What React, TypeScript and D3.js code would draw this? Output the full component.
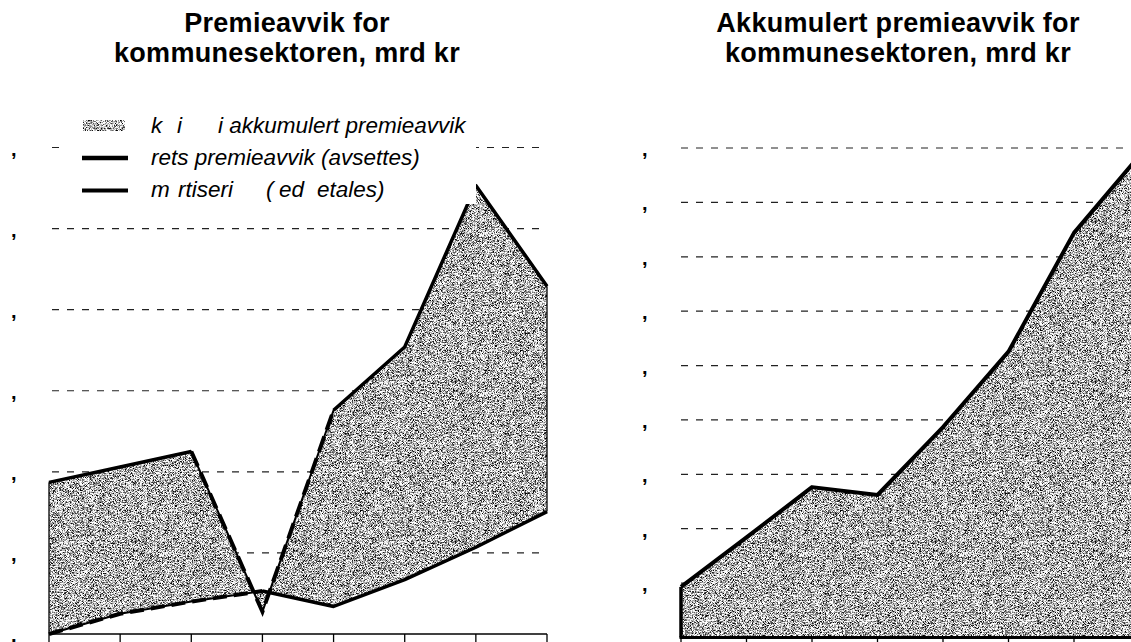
import React from "react";
import * as d3 from "d3";

// ---------- data ----------
const categories = ["2002", "2003", "2004", "2005", "2006", "2007", "2008", "2009"];
const avsettes = [1.87, 2.06, 2.25, 0.275, 2.76, 3.54, 5.53, 4.29];
const amortiseres = [0.0, 0.25, 0.4, 0.53, 0.34, 0.67, 1.07, 1.51];
const akkumulert = [1.86, 3.68, 5.53, 5.24, 7.74, 10.51, 14.88, 17.72];

const leftTicks = [0, 1, 2, 3, 4, 5, 6];
const leftTickLabels = [",", ",", ",", ",", ",", ",", ","];
const rightTicks = [0, 2, 4, 6, 8, 10, 12, 14, 16, 18];
// the label of 0 lies below the visible page in the reference
const rightTickLabels = ["", ",", ",", ",", ",", ",", ",", ",", ",", ","];

const leftTitle = ["Premieavvik for", "kommunesektoren, mrd kr"];
const rightTitle = ["Akkumulert premieavvik for", "kommunesektoren, mrd kr"];

// legend texts (scan leaves only fragments visible)
const legendRow1 = ["k", "i", "i akkumulert premieavvik"];
const legendRow2 = ["rets premieavvik (avsettes)"];
const legendRow3 = ["m", "rtiseri", "(", "ed", "etales)"];

const W = 1131;
const H = 642;
const FONT = "'Liberation Sans', Arial, Helvetica, sans-serif";

export default function App() {
  // scales
  const xL = d3.scalePoint<string>().domain(categories).range([49, 547]);
  const yL = d3.scaleLinear().domain([0, 6]).range([634, 147.5]);
  const xR = d3.scalePoint<string>().domain(categories).range([681, 1139.5]);
  const yR = d3.scaleLinear().domain([0, 18]).range([637.5, 148]);

  const upperPts: [number, number][] = categories.map((c, i) => [xL(c)!, yL(avsettes[i])]);
  const lowerPts: [number, number][] = categories.map((c, i) => [xL(c)!, yL(amortiseres[i])]);
  const line = d3.line<[number, number]>();

  const diffPoly = line([...upperPts, ...lowerPts.slice().reverse()]) + "Z";

  const rightPts: [number, number][] = categories.map((c, i) => [xR(c)!, yR(akkumulert[i])]);
  const rightArea = d3
    .area<[number, number]>()
    .x((d) => d[0])
    .y0(yR(0))
    .y1((d) => d[1])(rightPts)!;

  const gridDash = "7 8";

  return (
    <svg
      width={W}
      height={H}
      style={{ position: "fixed", left: 0, top: 0, background: "#fff" }}
    >
      <defs>
        <filter
          id="grain"
          x="0"
          y="0"
          width="1"
          height="1"
          colorInterpolationFilters="sRGB"
        >
          <feTurbulence type="fractalNoise" baseFrequency="1.6" numOctaves="1" seed="7" result="noise" />
          <feColorMatrix
            in="noise"
            type="matrix"
            values="3.4 0 0 0 -1.0  3.4 0 0 0 -1.0  3.4 0 0 0 -1.0  0 0 0 0 1"
            result="gray"
          />
          <feComposite in="gray" in2="SourceAlpha" operator="in" />
        </filter>
      </defs>
      <rect x={0} y={0} width={W} height={H} fill="#fff" />

      {/* ---------- titles ---------- */}
      <g fontFamily={FONT} fontWeight="bold" fontSize={27} fill="#000" textAnchor="middle" letterSpacing={0.3}>
        {leftTitle.map((t, i) => (
          <text key={"lt" + i} x={287} y={32 + i * 30}>
            {t}
          </text>
        ))}
        {rightTitle.map((t, i) => (
          <text key={"rt" + i} x={898} y={32 + i * 30}>
            {t}
          </text>
        ))}
      </g>

      {/* ---------- LEFT CHART ---------- */}
      <g>
        {leftTicks.slice(1).map((v) => (
          <line
            key={"lg" + v}
            x1={xL.range()[0]}
            x2={xL.range()[1]}
            y1={yL(v)}
            y2={yL(v)}
            stroke="#222"
            strokeWidth={1.2}
            strokeDasharray={gridDash}
            strokeDashoffset={-3}
          />
        ))}
        {leftTicks.map((v, i) => (
          <text key={"ll" + v} x={11} y={yL(v) + 8} fontFamily={FONT} fontWeight="bold" fontSize={20}>
            {leftTickLabels[i]}
          </text>
        ))}

        {/* difference area */}
        <path d={diffPoly} fill="#b0b0b0" filter="url(#grain)" />
        {/* area side edges */}
        <line x1={upperPts[0][0]} x2={lowerPts[0][0]} y1={upperPts[0][1]} y2={lowerPts[0][1]} stroke="#000" strokeWidth={1.3} />
        <line x1={upperPts[7][0]} x2={lowerPts[7][0]} y1={upperPts[7][1]} y2={lowerPts[7][1]} stroke="#000" strokeWidth={1.3} />

        {/* x axis */}
        <line x1={xL.range()[0]} x2={xL.range()[1]} y1={yL(0)} y2={yL(0)} stroke="#000" strokeWidth={1.5} />
        {categories.map((c) => (
          <line key={"lt" + c} x1={xL(c)} x2={xL(c)} y1={yL(0)} y2={yL(0) + 10} stroke="#000" strokeWidth={1.3} />
        ))}

        {/* amortiseres line */}
        <path d={line(lowerPts)!} fill="none" stroke="#000" strokeWidth={2} strokeLinejoin="round" />
        <path d={line(lowerPts.slice(0, 4))!} fill="none" stroke="#000" strokeWidth={4} strokeDasharray="14 7" />
        <path d={line(lowerPts.slice(3))!} fill="none" stroke="#000" strokeWidth={3.5} strokeLinejoin="round" />

        {/* avsettes line */}
        <path d={line(upperPts)!} fill="none" stroke="#000" strokeWidth={2} strokeLinejoin="round" />
        <path d={line(upperPts.slice(0, 3))!} fill="none" stroke="#000" strokeWidth={3.5} strokeLinejoin="round" />
        <path d={line(upperPts.slice(2, 5))!} fill="none" stroke="#000" strokeWidth={4} strokeDasharray="16 7" />
        <path d={line(upperPts.slice(4))!} fill="none" stroke="#000" strokeWidth={3.5} strokeLinejoin="round" />

        {/* legend */}
        <rect x={62} y={100} width={414} height={104} fill="#fff" />
        <rect x={83} y={120} width={42} height={11} fill="#b0b0b0" filter="url(#grain)" />
        <line x1={82} x2={128} y1={158} y2={158} stroke="#000" strokeWidth={4.5} />
        <line x1={82} x2={128} y1={190.5} y2={190.5} stroke="#000" strokeWidth={4} />
        <g fontFamily={FONT} fontStyle="italic" fontSize={22.5} fill="#000">
          <text y={133}>
            <tspan x={151}>{legendRow1[0]}</tspan>
            <tspan x={177}>{legendRow1[1]}</tspan>
            <tspan x={218}>{legendRow1[2]}</tspan>
          </text>
          <text y={165}>
            <tspan x={151}>{legendRow2[0]}</tspan>
          </text>
          <text y={197}>
            <tspan x={151}>{legendRow3[0]}</tspan>
            <tspan x={178}>{legendRow3[1]}</tspan>
            <tspan x={266}>{legendRow3[2]}</tspan>
            <tspan x={279}>{legendRow3[3]}</tspan>
            <tspan x={317}>{legendRow3[4]}</tspan>
          </text>
        </g>
      </g>

      {/* ---------- RIGHT CHART ---------- */}
      <g>
        {rightTicks.slice(1).map((v) => (
          <line
            key={"rg" + v}
            x1={xR.range()[0]}
            x2={xR.range()[1]}
            y1={yR(v)}
            y2={yR(v)}
            stroke="#222"
            strokeWidth={1.2}
            strokeDasharray={gridDash}
          />
        ))}
        {rightTicks.map((v, i) =>
          rightTickLabels[i] ? (
            <text key={"rl" + v} x={642} y={yR(v) + 8} fontFamily={FONT} fontWeight="bold" fontSize={20}>
              {rightTickLabels[i]}
            </text>
          ) : null
        )}
        <path d={rightArea} fill="#b0b0b0" filter="url(#grain)" />
        <path d={line(rightPts)!} fill="none" stroke="#000" strokeWidth={4} strokeLinejoin="round" />
        <line x1={rightPts[0][0]} x2={rightPts[0][0]} y1={rightPts[0][1]} y2={yR(0)} stroke="#000" strokeWidth={3.5} />
        <line x1={xR.range()[0] - 1.5} x2={xR.range()[1]} y1={yR(0)} y2={yR(0)} stroke="#000" strokeWidth={3} />
        {categories.map((c) => (
          <line key={"rt" + c} x1={xR(c)} x2={xR(c)} y1={yR(0)} y2={yR(0) + 10} stroke="#000" strokeWidth={1.3} />
        ))}
      </g>
    </svg>
  );
}
